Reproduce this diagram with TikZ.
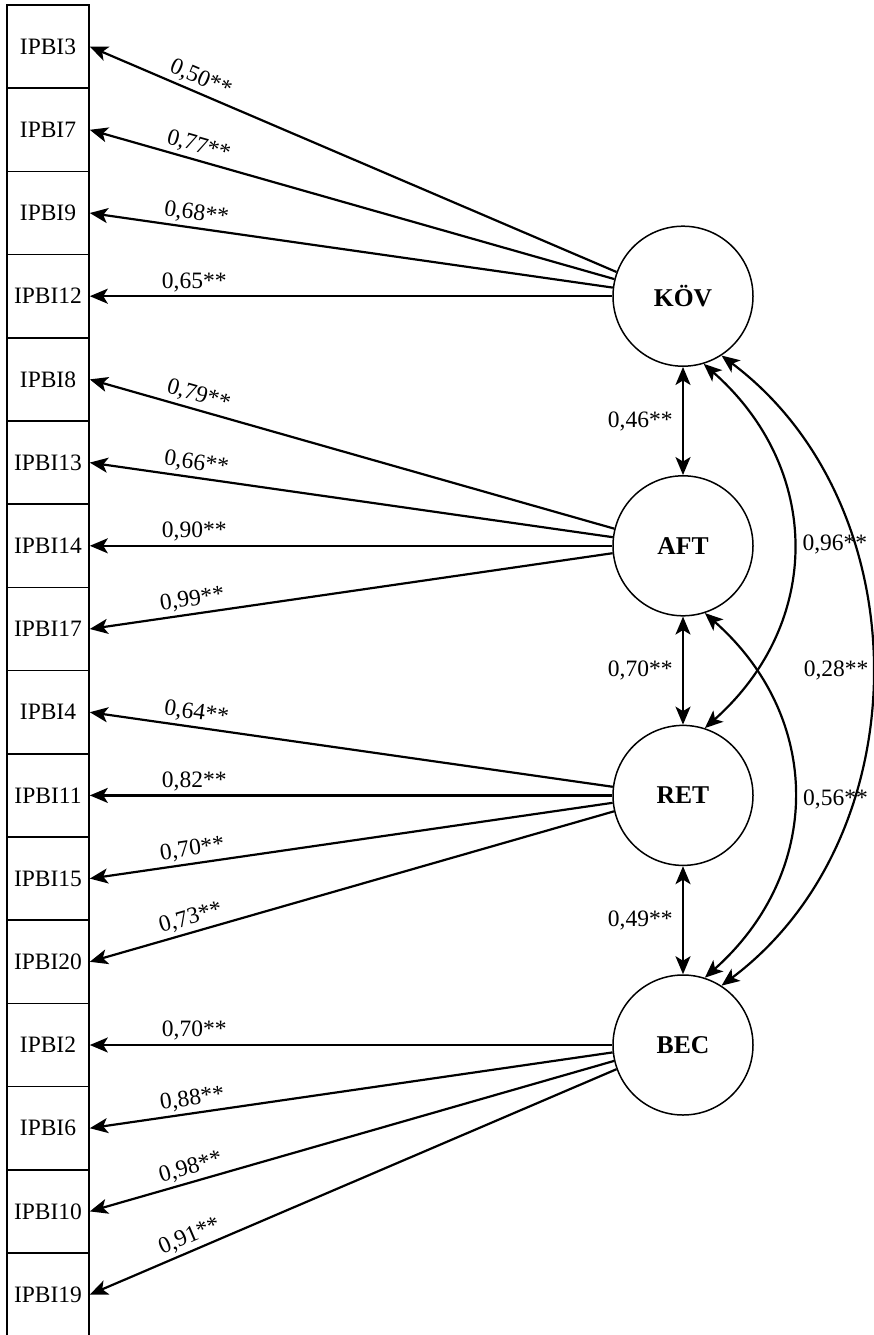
\documentclass[tikz,border=0pt]{standalone}
\usepackage{fontspec}
\setmainfont{Liberation Serif}
\usetikzlibrary{arrows.meta}
\begin{document}
\begin{tikzpicture}[x=1pt,y=-1pt,
  ind/.style={draw, line width=1.6pt, minimum width=82pt, minimum height=83.2pt, inner sep=0pt, font=\fontsize{23.5}{28}\selectfont},
  lat/.style={draw, circle, line width=1.5pt, minimum size=140pt, inner sep=0pt, font=\fontsize{25.6}{30}\selectfont\bfseries, fill=white},
  ld/.style={{Stealth[length=18pt,width=15pt,inset=4.5pt]}-, line width=2.2pt},
  cv/.style={{Stealth[length=18pt,width=15pt,inset=4.5pt]}-{Stealth[length=18pt,width=15pt,inset=4.5pt]}, line width=2.2pt},
  lbl/.style={font=\fontsize{23.5}{28}\selectfont},
  ll/.style={lbl, pos=0.2, sloped, above}
]
\useasboundingbox (0,0) rectangle (874,1335);
% indicator boxes
\node[ind] (i3)  at (48,46.6)   {IPBI3};
\node[ind] (i7)  at (48,129.8)  {IPBI7};
\node[ind] (i9)  at (48,213.0)  {IPBI9};
\node[ind] (i12) at (48,296.2)  {IPBI12};
\node[ind] (i8)  at (48,379.4)  {IPBI8};
\node[ind] (i13) at (48,462.6)  {IPBI13};
\node[ind] (i14) at (48,545.8)  {IPBI14};
\node[ind] (i17) at (48,629.0)  {IPBI17};
\node[ind] (i4)  at (48,712.2)  {IPBI4};
\node[ind] (i11) at (48,795.4)  {IPBI11};
\node[ind] (i15) at (48,878.6)  {IPBI15};
\node[ind] (i20) at (48,961.8)  {IPBI20};
\node[ind] (i2)  at (48,1045.0) {IPBI2};
\node[ind] (i6)  at (48,1128.2) {IPBI6};
\node[ind] (i10) at (48,1211.4) {IPBI10};
\node[ind] (i19) at (48,1294.6) {IPBI19};
% latent variables
\node[lat] (K) at (683,296.2)  {KÖV};
\node[lat] (A) at (683,545.8)  {AFT};
\node[lat] (R) at (683,795.4)  {RET};
\node[lat] (B) at (683,1045.0) {BEC};
% loadings
\draw[ld] (i3.east)  -- node[ll]{0,50**} (K.160);
\draw[ld] (i7.east)  -- node[ll]{0,77**} (K.166.8);
\draw[ld] (i9.east)  -- node[ll]{0,68**} (K.173.4);
\draw[ld] (i12.east) -- node[ll]{0,65**} (K.180);
\draw[ld] (i8.east)  -- node[ll]{0,79**} (A.166.8);
\draw[ld] (i13.east) -- node[ll]{0,66**} (A.173.4);
\draw[ld] (i14.east) -- node[ll]{0,90**} (A.180);
\draw[ld] (i17.east) -- node[ll]{0,99**} (A.186.6);
\draw[ld] (i4.east)  -- node[ll]{0,64**} (R.173.4);
\draw[ld] (i11.east) -- node[ll]{0,82**} (R.180);
\draw[ld] (i15.east) -- node[ll]{0,70**} (R.186.6);
\draw[ld] (i20.east) -- node[ll]{0,73**} (R.193.2);
\draw[ld] (i2.east)  -- node[ll]{0,70**} (B.180);
\draw[ld] (i6.east)  -- node[ll]{0,88**} (B.186.6);
\draw[ld] (i10.east) -- node[ll]{0,98**} (B.193.2);
\draw[ld] (i19.east) -- node[ll]{0,91**} (B.200);
% covariances
\draw[cv] (K.south) -- node[lbl, anchor=east, xshift=-6pt]{0,46**} (A.north);
\draw[cv] (A.south) -- node[lbl, anchor=east, xshift=-6pt]{0,70**} (R.north);
\draw[cv] (R.south) -- node[lbl, anchor=east, xshift=-6pt]{0,49**} (B.north);
\draw[cv] (K.287) .. controls +(119,105) and +(118,-105) .. node[lbl, pos=0.5, anchor=west, xshift=5pt, yshift=1pt]{0,96**} (R.72);
\draw[cv] (A.288) .. controls +(119,105) and +(118,-105) .. node[lbl, pos=0.5, anchor=west, xshift=5pt, yshift=-4pt]{0,56**} (B.72);
\draw[cv] (K.303) .. controls +(200,150) and +(200,-150) .. node[lbl, pos=0.5, anchor=east, inner sep=2pt]{0,28**} (B.57);
\end{tikzpicture}
\end{document}
